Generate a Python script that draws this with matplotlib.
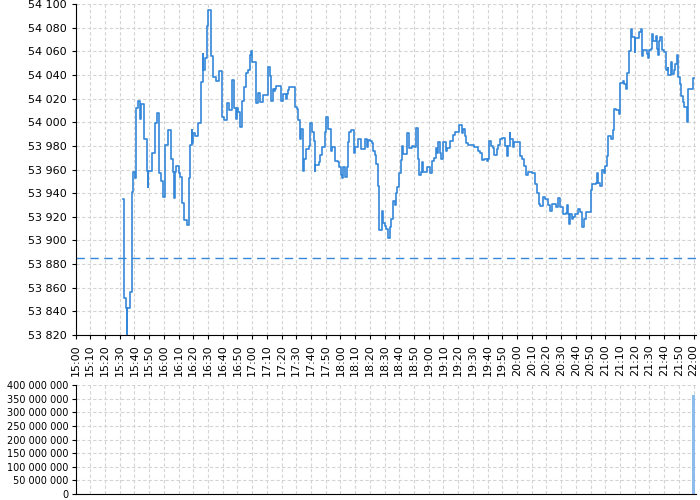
import matplotlib
matplotlib.use("Agg")
import matplotlib.pyplot as plt
from matplotlib.ticker import FuncFormatter, MultipleLocator

# minutes after 15:00 and price at each step
times = [32.0, 32.6, 33.0, 34.3, 34.6, 35.0, 36.7, 38.0, 39.0, 40.4, 40.8, 41.3, 42.6, 43.6, 44.7,
         46.8, 48.2, 49.0, 49.5, 51.8, 54.0, 55.5, 56.8, 58.0, 59.7, 61.0, 62.8, 65.0, 66.3, 67.0,
         67.6, 68.5, 70.0, 71.0, 72.6, 74.0, 75.4, 77.2, 78.0, 78.8, 79.3, 80.0, 81.2, 83.0, 85.0,
         86.3, 86.8, 87.8, 89.0, 90.0, 92.0, 93.2, 95.5, 97.7, 99.3, 101.0, 102.7, 104.5, 106.4,
         107.7, 109.3, 109.8, 110.2, 111.4, 113.4, 114.5, 115.9, 116.9, 118.2, 118.9, 120.2, 122.3,
         123.9, 125.0, 127.7, 130.5, 131.8, 132.5, 133.9, 135.1, 135.5, 136.0, 139.5, 140.7, 143.2,
         143.6, 144.3, 145.0, 149.0, 150.5, 151.0, 152.2, 152.6, 153.0, 154.3, 155.5, 156.8, 158.6,
         159.0, 160.7, 161.8, 162.6, 163.0, 165.2, 166.0, 167.4, 169.2, 170.0, 171.2, 173.3, 174.2,
         176.0, 178.0, 179.3, 180.1, 181.0, 182.0, 183.3, 184.2, 185.0, 186.0, 187.5, 189.4, 190.0,
         192.0, 193.8, 196.6, 198.3, 198.7, 200.2, 201.2, 202.2, 203.4, 204.0, 205.2, 205.9, 208.0,
         209.2, 210.0, 211.2, 212.3, 213.7, 214.6, 216.0, 217.3, 217.7, 218.4, 219.8, 221.0, 222.0,
         222.7, 225.5, 226.6, 228.5, 230.0, 231.4, 232.7, 233.6, 235.0, 235.5, 236.0, 239.0, 241.0,
         242.3, 243.6, 245.0, 245.8, 246.6, 247.7, 248.6, 250.0, 251.6, 252.7, 254.5, 256.6, 257.7,
         260.6, 262.3, 263.3, 264.5, 265.4, 267.0, 271.0, 273.6, 275.0, 276.0, 277.8, 279.3, 280.5,
         281.1, 282.3, 283.6, 284.5, 286.4, 287.0, 288.2, 290.0, 291.8, 293.3, 294.1, 295.0, 295.5,
         297.5, 298.1, 302.0, 303.6, 305.0, 306.1, 307.6, 310.0, 312.2, 313.5, 314.7, 315.6, 317.4,
         319.0, 321.2, 322.4, 323.5, 326.4, 328.0, 329.4, 331.4, 333.6, 334.1, 334.8, 335.6, 336.3,
         337.3, 338.0, 339.5, 341.3, 343.0, 344.0, 345.6, 347.0, 350.0, 351.1, 353.5, 354.2, 355.0,
         356.5, 357.6, 359.0, 359.8, 361.2, 362.0, 363.6, 365.2, 365.8, 367.5, 369.0, 370.3, 371.9,
         372.5, 374.0, 374.8, 376.0, 377.2, 377.5, 378.0, 380.0, 380.4, 382.6, 384.0, 384.6, 385.9,
         388.0, 388.8, 389.7, 391.0, 392.0, 392.6, 394.2, 394.9, 395.8, 396.4, 397.5, 398.7, 400.0,
         401.3, 402.3, 402.8, 404.7, 405.3, 406.7, 407.6, 408.5, 409.6, 410.5, 411.6, 413.0, 413.4,
         415.2, 416.5, 419.6, 420.0]
prices = [53935, 53918, 53851, 53843, 53821, 53843, 53856, 53941, 53958, 53953, 53958, 54012, 54018, 54003, 54015,
          53986, 53959, 53945, 53959, 53974, 53999, 54008, 53957, 53950, 53937, 53981, 53993, 53969, 53958, 53936,
          53958, 53963, 53957, 53954, 53932, 53917, 53913, 53953, 53981, 53993, 53982, 53991, 53988, 53999, 54034,
          54058, 54044, 54054, 54081, 54095, 54056, 54038, 54035, 54043, 54004, 54002, 54016, 54010, 54036,
          54012, 54003, 54012, 54009, 53996, 54018, 54030, 54042, 54044, 54057, 54060, 54051, 54016,
          54025, 54017, 54023, 54047, 54039, 54018, 54028, 54026, 54028, 54031, 54018, 54024, 54020,
          54024, 54027, 54030, 54013, 54011, 54002, 53994, 53986, 53994, 53959, 53969, 53977, 53980,
          53999, 53992, 53984, 53959, 53964, 53966, 53972, 53979, 53992, 54004, 53994, 53976, 53979,
          53967, 53966, 53962, 53955, 53953, 53962, 53954, 53962, 53983, 53992, 53993, 53974, 53979,
          53986, 53977, 53986, 53979, 53985, 53984, 53982, 53976, 53972, 53965, 53946, 53909, 53925,
          53915, 53912, 53910, 53902, 53911, 53918, 53933, 53930, 53940, 53945, 53957, 53968, 53980,
          53973, 53991, 53978, 53980, 53979, 53995, 53969, 53955, 53958, 53966, 53958, 53962, 53957,
          53967, 53970, 53978, 53974, 53983, 53974, 53969, 53983, 53976, 53978, 53984, 53989, 53992,
          53998, 53991, 53994, 53988, 53982, 53981, 53979, 53976, 53974, 53968, 53969, 53967, 53969,
          53984, 53980, 53978, 53972, 53977, 53981, 53986, 53987, 53980, 53971, 53980, 53991, 53986,
          53979, 53983, 53971, 53969, 53963, 53955, 53958, 53957, 53948, 53940, 53931, 53929, 53937,
          53935, 53930, 53925, 53931, 53928, 53936, 53928, 53922, 53923, 53930, 53922, 53914, 53922,
          53918, 53920, 53922, 53927, 53924, 53911, 53918, 53924, 53943, 53948, 53949, 53957, 53949,
          53946, 53960, 53957, 53963, 53971, 53988, 53986, 53993, 54011, 54010, 54007, 54033, 54035,
          54032, 54028, 54042, 54060, 54074, 54079, 54072, 54059, 54071, 54076, 54079, 54056, 54061,
          54058, 54054, 54061, 54062, 54075, 54069, 54073, 54062, 54057, 54069, 54072, 54061, 54059,
          54044, 54046, 54040, 54051, 54041, 54044, 54049, 54057, 54038, 54032, 54022, 54017, 54013,
          54000, 54028, 54037, 54037]

prev_close = 53885

vol_times = [420]
volumes = [365_000_000]

tick_minutes = list(range(0, 421, 10))
tick_labels = [f"{15 + m // 60}:{m % 60:02d}" for m in tick_minutes]

BLUE = '#3587d9'
GRID = '#d4d4d4'


def spaced(v, pos):
    return f"{int(round(v)):,}".replace(",", " ")


fig = plt.figure(figsize=(7, 5), dpi=100)
ax = fig.add_axes([0.108, 0.33, 0.886, 0.662])
axv = fig.add_axes([0.108, 0.012, 0.886, 0.218])

ax.step(times, prices, where='post', color=BLUE, lw=1.2)
ax.axhline(prev_close, color=BLUE, lw=1.0, dashes=(6, 4))

ax.set_xlim(0, 421.5)
ax.set_ylim(53820, 54100)
ax.yaxis.set_major_locator(MultipleLocator(20))
ax.yaxis.set_major_formatter(FuncFormatter(spaced))
ax.set_xticks(tick_minutes)
ax.set_xticklabels(tick_labels, rotation=90, fontsize=8)
ax.tick_params(axis='y', labelsize=8, length=3)
ax.tick_params(axis='x', length=3)

axv.bar(vol_times, volumes, width=1.5, color='#8cbcec')
axv.set_xlim(0, 421.5)
axv.set_ylim(0, 400_000_000)
axv.yaxis.set_major_locator(MultipleLocator(50_000_000))
axv.yaxis.set_major_formatter(FuncFormatter(spaced))
axv.set_xticks(tick_minutes)
axv.set_xticklabels([])
axv.tick_params(axis='x', length=0)
axv.tick_params(axis='y', labelsize=7, length=3, pad=2)

for a in (ax, axv):
    a.grid(True, color=GRID, ls=(0, (3, 2)), lw=0.8)
    a.set_axisbelow(True)
    a.spines['top'].set_visible(False)
    a.spines['right'].set_visible(False)

fig.savefig('out.png', dpi=100)
